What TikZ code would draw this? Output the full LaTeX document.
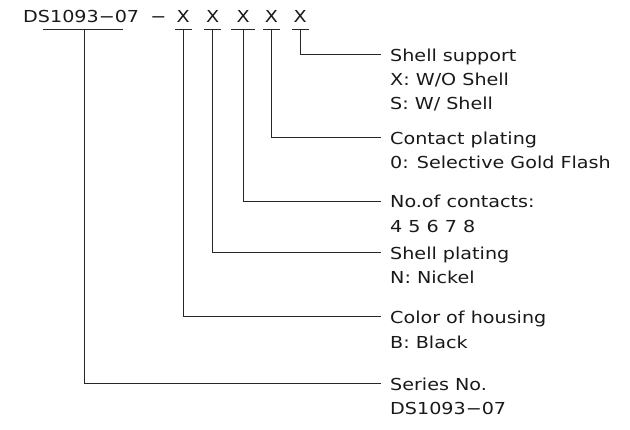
\documentclass[tikz,border=0pt]{standalone}
\usepackage{fontspec}
\setmainfont[FakeStretch=1.16]{DejaVu Sans}
\begin{document}
\begin{tikzpicture}[x=1pt,y=-1pt,
  lbl/.style={anchor=base west,inner sep=0pt,font=\fontsize{16.5}{19}\selectfont,text=black!90},
  ttl/.style={anchor=base,inner sep=0pt,font=\fontsize{16.5}{19}\selectfont,text=black!90},
  lead/.style={draw=black!85,line width=0.9pt}]
\useasboundingbox (0,0) rectangle (630,430);
% title
\node[lbl] (ser) at (23,22.8) {DS1093−07};
\node[ttl] (dash) at (158.5,22.8) {−};
\node[ttl] (x1) at (183.3,22.8) {X};
\node[ttl] (x2) at (212.8,22.8) {X};
\node[ttl] (x3) at (243.2,22.8) {X};
\node[ttl] (x4) at (271.5,22.8) {X};
\node[ttl] (x5) at (300.3,22.8) {X};
% underlines
\coordinate (u0) at (84,29);
\coordinate (u1) at (183.3,29);
\coordinate (u2) at (212.8,29);
\coordinate (u3) at (243.2,29);
\coordinate (u4) at (271.5,29);
\coordinate (u5) at (300.3,29);
\draw[lead] (43,29) -- (123,29);
\draw[lead] ([xshift=-8.5pt]u1) -- ([xshift=8.5pt]u1);
\draw[lead] ([xshift=-8.5pt]u2) -- ([xshift=8.5pt]u2);
\draw[lead] ([xshift=-12pt]u3) -- ([xshift=12pt]u3);
\draw[lead] ([xshift=-8.5pt]u4) -- ([xshift=8.5pt]u4);
\draw[lead] ([xshift=-8.5pt]u5) -- ([xshift=8.5pt]u5);
% leader ends
\coordinate (e5) at (381,54.3);
\coordinate (e4) at (381,137.7);
\coordinate (e3) at (381,201);
\coordinate (e2) at (381,252);
\coordinate (e1) at (381,316.5);
\coordinate (e0) at (381,383.5);
\draw[lead] (u5) |- (e5);
\draw[lead] (u4) |- (e4);
\draw[lead] (u3) |- (e3);
\draw[lead] (u2) |- (e2);
\draw[lead] (u1) |- (e1);
\draw[lead] (u0) |- (e0);
% labels
\node[lbl] (l5a) at (390,61.3) {Shell support};
\node[lbl] (l5b) at (390,85.6) {X: W/O Shell};
\node[lbl] (l5c) at (390,109.9) {S: W/ Shell};
\node[lbl] (l4a) at (390,144.7) {Contact plating};
\node[lbl] (l4b) at (390,169) {0: Selective Gold Flash};
\node[lbl] (l3a) at (390,208) {No.of contacts:};
\node[lbl] (l3b) at (390,232.3) {4 5 6 7 8};
\node[lbl] (l2a) at (390,259.5) {Shell plating};
\node[lbl] (l2b) at (390,283.8) {N: Nickel};
\node[lbl] (l1a) at (390,324) {Color of housing};
\node[lbl] (l1b) at (390,348.3) {B: Black};
\node[lbl] (l0a) at (390,390.7) {Series No.};
\node[lbl] (l0b) at (390,415) {DS1093−07};
\end{tikzpicture}
\end{document}
